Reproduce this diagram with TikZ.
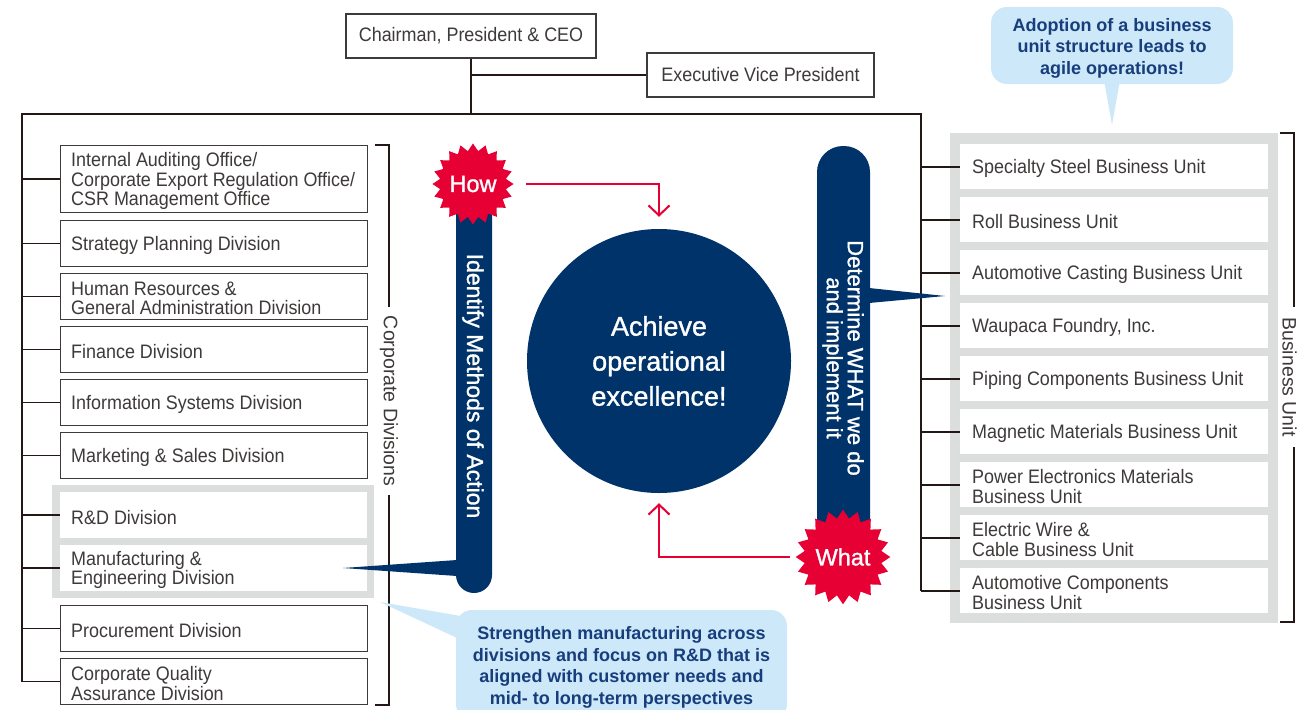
\documentclass[tikz,border=0pt]{standalone}
\usepackage{fontspec}
\setmainfont{Liberation Sans}
\newfontfamily\narrowfont[FakeStretch=0.92]{Liberation Sans}
\newfontfamily\medfont[FakeBold=1.2]{Liberation Sans}
\usetikzlibrary{shapes.geometric,arrows.meta}
\definecolor{navy}{HTML}{00336A}
\definecolor{hred}{HTML}{E60033}
\definecolor{cblue}{HTML}{CDE8F8}
\definecolor{ctext}{HTML}{173D7D}
\definecolor{gframe}{HTML}{DCDDDD}
\definecolor{ink}{HTML}{3E3A39}
\definecolor{wire}{HTML}{231815}
\newcommand\divbox[5]{\node[#1,minimum height=#4pt] (#2) at (60,#3) {};\node[dtext] (#2t) at ([xshift=11pt,yshift=-2pt]#2.west) {#5};}
\newcommand\bubox[3]{\node[bbox] (#1) at (960,#2) {};\node[dtext] (#1t) at ([xshift=12pt,yshift=-2pt]#1.west) {#3};}
\begin{document}
\begin{tikzpicture}[x=1pt,y=-1pt,
  dbox/.style={draw=ink, line width=1.2pt, fill=white, anchor=north west, minimum width=307pt, inner sep=0pt},
  pbox/.style={fill=white, anchor=north west, minimum width=307pt, inner sep=0pt},
  bbox/.style={fill=white, anchor=north west, minimum width=308pt, minimum height=45pt, inner sep=0pt},
  dtext/.style={anchor=west, align=left, inner sep=0pt, text=ink, font=\narrowfont\fontsize{19.5}{19.4}\selectfont},
  topbox/.style={draw=ink, line width=1.2pt, fill=white, inner sep=0pt, text=ink, font=\narrowfont\fontsize{19.5}{19}\selectfont},
  wireline/.style={draw=wire, line width=1.6pt},
  sidelabel/.style={rotate=-90, inner sep=0pt, text=ink, font=\fontsize{19.5}{19}\selectfont},
  burst/.style={star, star points=20, star point ratio=1.22, minimum size=81pt, inner sep=0pt, fill=hred, text=white, font=\medfont\fontsize{23.5}{24}\selectfont},
  redarrow/.style={draw=hred, line width=2pt, -{Straight Barb[length=10pt,width=21pt]}},
  callout/.style={fill=cblue, rounded corners=16pt, inner sep=0pt},
  callouttext/.style={inner sep=0pt, text=ctext, align=center, font=\bfseries\fontsize{18}{21.5}\selectfont},
  bartext/.style={rotate=-90, inner sep=0pt, text=white, align=center}
]
\useasboundingbox (0,0) rectangle (1297,709);

% top boxes
\node[topbox, minimum width=250pt, minimum height=44pt] (chair) at (471,36) {Chairman, President \& CEO};
\node[topbox, minimum width=227pt, minimum height=44pt] (evp) at (760.5,75) {Executive Vice President};

% gray frames
\fill[gframe] (52,485) rectangle (374,598);
\fill[gframe] (950,133) rectangle (1278,623);

% left divisions
\divbox{dbox}{ia}{145}{67}{Internal Auditing Office/\\\mbox{Corporate Export Regulation Office/}\\CSR Management Office}
\divbox{dbox}{sp}{220}{46}{Strategy Planning Division}
\divbox{dbox}{hr}{273}{46}{Human Resources \&\\General Administration Division}
\divbox{dbox}{fi}{326}{46}{Finance Division}
\divbox{dbox}{is}{379}{46}{Information Systems Division}
\divbox{dbox}{ms}{432}{46}{Marketing \& Sales Division}
\divbox{pbox}{rd}{492}{46}{R\&D Division}
\divbox{pbox}{me}{545}{46}{Manufacturing \&\\Engineering Division}
\divbox{dbox}{pr}{605}{46}{Procurement Division}
\divbox{dbox}{cq}{658}{46}{Corporate Quality\\Assurance Division}

% business units
\bubox{ss}{144}{Specialty Steel Business Unit}
\bubox{ro}{197}{Roll Business Unit}
\bubox{cast}{250}{Automotive Casting Business Unit}
\bubox{wf}{303}{Waupaca Foundry, Inc.}
\bubox{pc}{356}{Piping Components Business Unit}
\bubox{mm}{409}{Magnetic Materials Business Unit}
\bubox{pe}{462}{Power Electronics Materials\\Business Unit}
\bubox{ew}{515}{Electric Wire \&\\Cable Business Unit}
\bubox{ac}{568}{Automotive Components\\Business Unit}

% org wiring
\coordinate (tl) at (22,114);
\coordinate (tr) at (921,114);
\draw[wireline] (chair.south) -- (chair.south |- tl);
\draw[wireline] (evp.west) -- (evp.west -| chair.south);
\draw[wireline] (cq.west -| tl) -- (tl) -- (tr) -- (ac.west -| tr);
\foreach \n in {ia,sp,hr,fi,is,ms,rd,me,pr,cq} \draw[wireline] (\n.west) -- (\n.west -| tl);
\foreach \n in {ss,ro,cast,wf,pc,mm,pe,ew,ac} \draw[wireline] (\n.west) -- (\n.west -| tr);

% brackets
\node[sidelabel] (cdl) at (389,401) {Corporate Divisions};
\draw[wireline, line width=1.4pt] (375,145) -- (389,145) -- (389,307);
\draw[wireline, line width=1.4pt] (389,495) -- (389,705) -- (375,705);
\node[sidelabel] (bul) at (1289.5,377) {Business Unit};
\draw[wireline, line width=1.4pt] (1280,133) -- (1294,133) -- (1294,307);
\draw[wireline, line width=1.4pt] (1294,447) -- (1294,622) -- (1280,622);

% navy bars and pointers
\fill[navy, rounded corners=18pt] (456,168) rectangle (492,593);
\fill[navy] (457,560) -- (343,568) -- (457,576) -- cycle;
\node[bartext, font=\medfont\fontsize{23}{23}\selectfont] (lbt) at (473,386) {Identify Methods of Action};
\fill[navy, rounded corners=26pt] (817,146) rectangle (870,548);
\fill[navy] (869,288) -- (945,296) -- (869,303) -- cycle;
\node[bartext, font=\medfont\fontsize{22}{21}\selectfont] (rbt) at (843,358) {Determine WHAT we do\\and implement it};

% goal circle
\node[circle, fill=navy, minimum size=264pt, inner sep=0pt, text=white, align=center, font=\medfont\fontsize{27}{35}\selectfont] (goal) at (659,361) {Achieve\\operational\\excellence!};

% bursts
\node[burst] (how) at (473,184) {How};
\node[burst] (what) at (843,557) {What};

% red arrows
\draw[redarrow, shorten <=12.5pt, shorten >=12pt] (how.east) -| (goal.north);
\draw[redarrow, shorten <=5.5pt, shorten >=10pt] (what.west) -| (goal.south);

% callouts
\node[callout, minimum width=242pt, minimum height=77pt] (c1) at (1112,45.5) {};
\node[callouttext] (c1t) at ([yshift=-2.5pt]c1.center) {Adoption of a business\\unit structure leads to\\agile operations!};
\coordinate (c1tip) at (1112,125);
\fill[cblue] ([xshift=-8pt,yshift=4pt]c1.south) -- (c1tip) -- ([xshift=8pt,yshift=4pt]c1.south) -- cycle;

\node[callout, minimum width=331pt, minimum height=110pt] (c2) at (621.5,665) {};
\node[callouttext] (c2t) at ([yshift=-2.5pt]c2.center) {Strengthen manufacturing across\\divisions and focus on R\&D that is\\aligned with customer needs and\\mid- to long-term perspectives};
\coordinate (c2tip) at (380,602);
\fill[cblue] (c2tip) -- (472,618) -- (472,645) -- cycle;
\end{tikzpicture}
\end{document}
